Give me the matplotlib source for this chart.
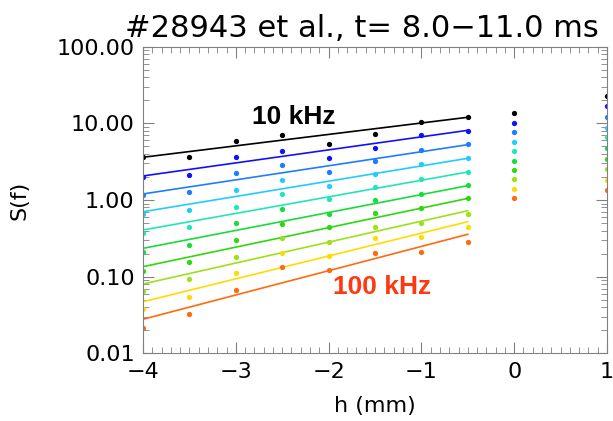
import matplotlib
matplotlib.use('Agg')
import matplotlib.pyplot as plt
from matplotlib.ticker import MultipleLocator, LogLocator, FormatStrFormatter, NullFormatter

# positions (mm) and S(f) per frequency
h = [-4, -3.5, -3, -2.5, -2, -1.5, -1, -0.5, 0, 1]
freqs = [10, 20, 30, 40, 50, 60, 70, 80, 90, 100]

s10 = [3.61, 3.61, 5.94, 7.05, 5.38, 7.19, 10.5, 12.2, 13.5, 22.9]
s20 = [2.01, 2.12, 3.67, 4.40, 3.50, 4.81, 7.05, 8.02, 10.1, 16.8]
s30 = [1.16, 1.26, 2.23, 2.86, 2.30, 3.23, 4.49, 5.33, 7.64, 12.2]
s40 = [0.656, 0.741, 1.35, 1.82, 1.52, 2.18, 2.92, 3.50, 5.71, 8.77]
s50 = [0.368, 0.441, 0.818, 1.20, 1.02, 1.47, 1.86, 2.34, 4.32, 6.58]
s60 = [0.208, 0.259, 0.497, 0.757, 0.656, 1.00, 1.20, 1.57, 3.26, 4.72]
s70 = [0.120, 0.157, 0.301, 0.486, 0.441, 0.671, 0.787, 1.05, 2.46, 3.43]
s80 = [0.0656, 0.0923, 0.182, 0.316, 0.281, 0.449, 0.501, 0.656, 1.86, 2.51]
s90 = [0.0379, 0.0547, 0.111, 0.205, 0.186, 0.316, 0.326, 0.441, 1.39, 1.82]
s100 = [0.0212, 0.0326, 0.0670, 0.135, 0.122, 0.205, 0.210, 0.286, 1.05, 1.35]
series = [s10, s20, s30, s40, s50, s60, s70, s80, s90, s100]

# fitted lines, value at h=-4 and h=-0.5
fit_h = [-4, -0.5]
fit_lo = [3.61, 2.06, 1.20, 0.703, 0.406, 0.234, 0.135, 0.0802, 0.0471, 0.0278]
fit_hi = [12.0, 8.11, 5.27, 3.50, 2.32, 1.54, 1.05, 0.725, 0.521, 0.357]

colors = ['black', '#1010ff', '#1e7cff', '#22ccff', '#22e6b8',
          '#18dc3c', '#2ed80c', '#9ee01a', '#ffdc00', '#ff6a10']

fig = plt.figure(figsize=(6.13, 4.21), dpi=100)
ax = fig.add_axes([143 / 613, 1 - 353.3 / 421, 464 / 613, 306.6 / 421])

for vals, lo, hi, c in zip(series, fit_lo, fit_hi, colors):
    ax.plot(h, vals, 'o', color=c, ms=3.8, mew=0)
    ax.plot(fit_h, [lo, hi], '-', color=c, lw=1.2)

ax.set_yscale('log')
ax.set_ylim(0.01, 100)
ax.set_xlim(-4, 1)

ax.yaxis.set_major_formatter(FormatStrFormatter('%.2f'))
ax.yaxis.set_minor_locator(LogLocator(subs=range(2, 10)))
ax.yaxis.set_minor_formatter(NullFormatter())
ax.xaxis.set_major_locator(MultipleLocator(1))
ax.xaxis.set_minor_locator(MultipleLocator(0.1))

axis_col = '#808080'
ax.tick_params(which='both', direction='in', top=True, right=True,
               color=axis_col, labelsize=16, pad=6)
ax.tick_params(which='major', length=8)
ax.tick_params(which='minor', length=4)
for sp in ax.spines.values():
    sp.set_color(axis_col)

ax.set_xlabel('h (mm)', fontsize=16, labelpad=10)
ax.set_ylabel('S(f)', fontsize=16)
ax.yaxis.set_label_coords(-0.245, 0.5)
ax.set_title('#28943 et al., t= 8.0\u221211.0 ms', fontsize=22,
             x=(362 - 143) / 464, pad=7)

# frequency labels
ax.text(-2.38, 12.1, f'{freqs[0]} kHz', fontsize=19, fontweight='bold',
        family='Liberation Sans', ha='center', va='center', color='black')
ax.text(-1.42, 0.074, f'{freqs[-1]} kHz', fontsize=19, fontweight='bold',
        family='Liberation Sans', ha='center', va='center', color='#ff3810')

plt.savefig('out.png', dpi=100)
